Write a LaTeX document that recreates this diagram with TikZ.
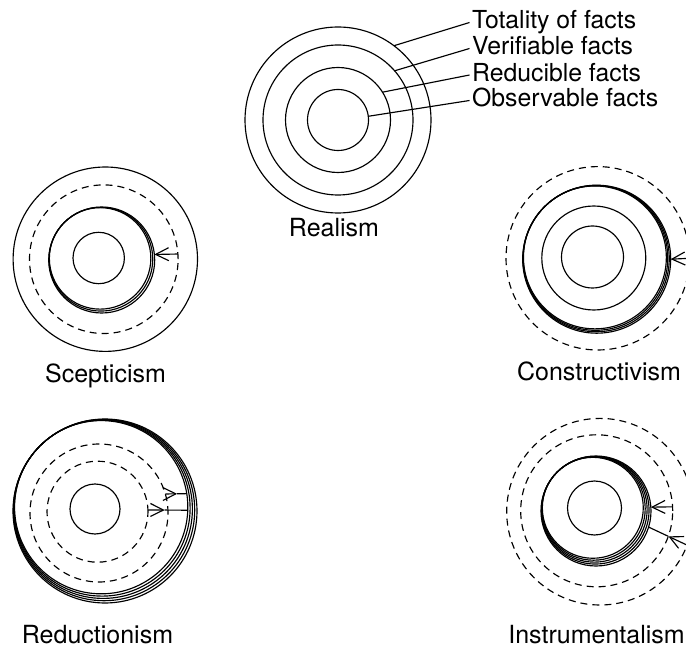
\documentclass[tikz,border=0pt]{standalone}
\usepackage{fontspec}
\setmainfont{TeX Gyre Heros}
\usetikzlibrary{arrows.meta,calc}
\begin{document}
\begin{tikzpicture}[x=1pt,y=-1pt,line width=1.15pt,
  ring/.style={circle,draw,inner sep=0pt,outer sep=0pt,minimum size=#1},
  dring/.style={ring=#1,dash pattern=on 7pt off 5pt},
  lbl/.style={font=\fontsize{25}{29}\selectfont,inner sep=0pt,anchor=base},
  fact/.style={font=\fontsize{24.8}{29}\selectfont,inner sep=2pt,anchor=base west,text height=18pt,text depth=5pt},
  barb/.style={-{Straight Barb[length=13pt,width=13pt,line width=1.15pt]}},
  leader/.style={line width=1.15pt},
]
\useasboundingbox (0,0) rectangle (686,647);
\clip (0,0) rectangle (686,647);

% ---------- Realism ----------
\node[ring=186pt] (re1) at (338,120) {};
\node[ring=150pt] (re2) at (338,120) {};
\node[ring=105pt] (re3) at (338,120) {};
\node[ring=61pt]  (re4) at (338,120) {};
\node[lbl] (realism) at (334,237) {Realism};
\node[fact] (f1) at (469.5,29) {Totality of facts};
\node[fact] (f2) at (469.5,55) {Verifiable facts};
\node[fact] (f3) at (469.5,81.5) {Reducible facts};
\node[fact] (f4) at (469.5,107) {Observable facts};
\draw[leader] (re1.53) -- (f1.west);
\draw[leader] (re2.41) -- (f2.west);
\draw[leader] (re3.32) -- (f3.west);
\draw[leader] (re4.7)  -- (f4.west);

% ---------- Scepticism ----------
\node[ring=184.4pt] (sk1) at (105.3,259.2) {};
\node[dring=148.6pt] (skD) at (103.8,259.2) {};
\foreach \k in {0,1,2}{
  \pgfmathsetmacro\dd{2*(53-1.131*\k)}
  \node[ring=\dd pt] (skT\k) at ({101.7-0.8*\k},{260-0.8*\k}) {};
}
\node[ring=51.4pt] (sk4) at (98.7,258) {};
\draw[barb] (skD.4) -- (skT0.6);
\node[lbl] (scep) at (105.5,382) {Scepticism};

% ---------- Constructivism ----------
\node[dring=183.4pt] (ctD) at (597.7,258.3) {};
\foreach \k in {0,1,2,3}{
  \pgfmathsetmacro\dd{2*(74-0.849*\k)}
  \node[ring=\dd pt] (ctT\k) at ({596.7-0.6*\k},{259.2-0.6*\k}) {};
}
\node[ring=104pt] (ct3) at (593.8,258) {};
\node[ring=62pt]  (ct4) at (592.5,257) {};
\draw[barb] (ctD.east) -- (ctT0.east);
\node[lbl] (cons) at (599,381) {Constructivism};

% ---------- Reductionism ----------
\foreach \k in {0,1,2,3,4}{
  \pgfmathsetmacro\dd{2*(92-1.343*\k)}
  \node[ring=\dd pt] (rdO\k) at ({105-0.95*\k},{511-0.95*\k}) {};
}
\node[dring=138pt] (rdD1) at (99,513) {};
\node[dring=101pt] (rdD2) at (97.5,511.7) {};
\node[ring=50pt] (rd4) at (95,509) {};
\coordinate (rdLa) at ($(rdD2.2)!0.42!(rdO4.-2)$);
\draw[barb] (rdD2.2) -- (rdLa);
\draw (rdLa) -- (rdO4.-2);
\coordinate (rdUa) at ($(rdD1.16)!0.55!(rdO4.9)$);
\draw[barb] (rdD1.16) -- (rdUa);
\draw (rdUa) -- (rdO4.9);
\node[lbl] (redu) at (97.5,643) {Reductionism};

% ---------- Instrumentalism ----------
\node[dring=186.6pt] (inD1) at (600,511.7) {};
\node[dring=152pt] (inD2) at (596.7,510.8) {};
\foreach \k in {0,1,2,3,4}{
  \pgfmathsetmacro\dd{2*(55-1.131*\k)}
  \node[ring=\dd pt] (inT\k) at ({596-0.8*\k},{511-0.8*\k}) {};
}
\node[ring=54pt] (in4) at (594.5,508) {};
\draw[barb] (inD2.3) -- (inT0.4);
\coordinate (inLa) at ($(inD1.-21)!0.485!(inT0.-17)$);
\draw[barb] (inD1.-21) -- (inLa);
\draw (inLa) -- (inT0.-17);
\node[lbl] (instr) at (596.5,643) {Instrumentalism};
\end{tikzpicture}
\end{document}
